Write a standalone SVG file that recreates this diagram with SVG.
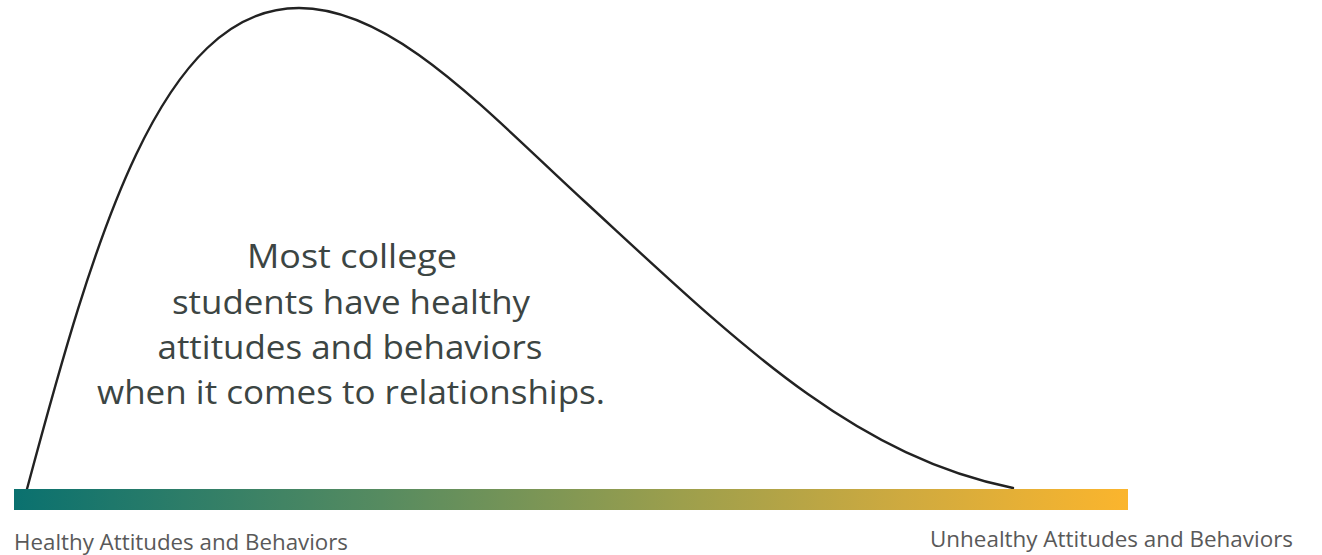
<svg xmlns="http://www.w3.org/2000/svg" width="1322" height="555" viewBox="0 0 1322 555">
  <style>
    .main { font-family: "Open Sans", "Liberation Sans", sans-serif; font-size: 32px; fill: #3c4543; text-anchor: middle; }
    .label { font-family: "Open Sans", "Liberation Sans", sans-serif; font-size: 21px; fill: #595959; }
    .curve { fill: none; stroke: #222222; stroke-width: 2.4; stroke-linecap: round; }
  </style>
  <defs>
    <linearGradient id="barGrad" x1="0" y1="0" x2="1" y2="0">
      <stop offset="0" stop-color="#0a716f"/>
      <stop offset="0.33" stop-color="#568b60"/>
      <stop offset="0.6" stop-color="#9d9f4c"/>
      <stop offset="0.8" stop-color="#cfaa3f"/>
      <stop offset="1" stop-color="#fbb52d"/>
    </linearGradient>
  </defs>
  <rect width="1322" height="555" fill="#ffffff"/>
  <g id="connectors">
    <path class="curve" d="M27,489 C94,239 160,8 299,8 C392,8 483,108 583,200 C733,338 850,455 1013,488"/>
  </g>
  <g id="bar">
    <rect x="14" y="489" width="1114" height="21" fill="url(#barGrad)"/>
  </g>
  <g id="main-text">
    <text class="main" x="352" y="268" textLength="210" lengthAdjust="spacingAndGlyphs">Most college</text>
    <text class="main" x="351" y="314" textLength="358" lengthAdjust="spacingAndGlyphs">students have healthy</text>
    <text class="main" x="350" y="359" textLength="385" lengthAdjust="spacingAndGlyphs">attitudes and behaviors</text>
    <text class="main" x="351" y="404" textLength="508" lengthAdjust="spacingAndGlyphs">when it comes to relationships.</text>
  </g>
  <g id="label-healthy">
    <text class="label" x="14" y="550" textLength="334" lengthAdjust="spacingAndGlyphs">Healthy Attitudes and Behaviors</text>
  </g>
  <g id="label-unhealthy">
    <text class="label" x="930" y="547" textLength="363" lengthAdjust="spacingAndGlyphs">Unhealthy Attitudes and Behaviors</text>
  </g>
</svg>
